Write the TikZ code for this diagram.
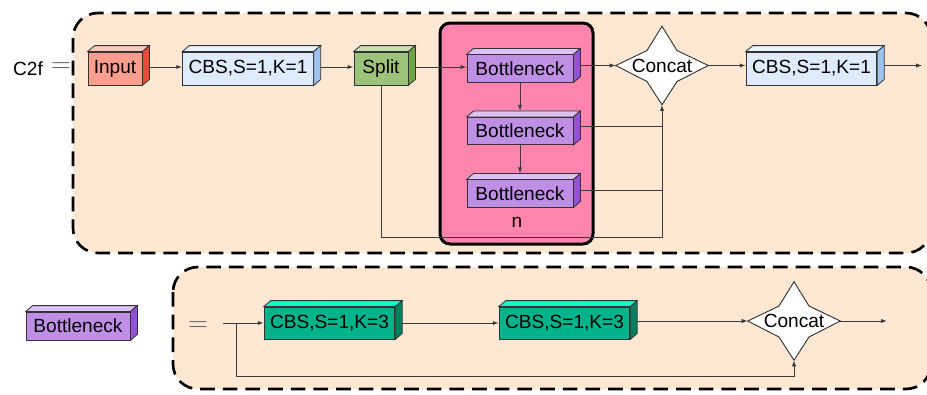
\documentclass[tikz,border=0pt]{standalone}
\usepackage{fontspec}
\setmainfont{Liberation Sans}
\usetikzlibrary{arrows.meta,calc}

\definecolor{peach}{HTML}{FFE8D3}
\definecolor{rosebox}{HTML}{FF85AE}
\definecolor{edgecol}{HTML}{333333}
\definecolor{wirecol}{HTML}{3A3A3A}
\definecolor{inF}{HTML}{FF9E8F}\definecolor{inT}{HTML}{FFC8C0}\definecolor{inS}{HTML}{E84A3A}
\definecolor{cbF}{HTML}{DDEBFD}\definecolor{cbT}{HTML}{EAF3FF}\definecolor{cbS}{HTML}{9DC3F0}
\definecolor{spF}{HTML}{9DC37A}\definecolor{spT}{HTML}{C8E0B2}\definecolor{spS}{HTML}{6FA646}
\definecolor{btF}{HTML}{BF8FE6}\definecolor{btT}{HTML}{DCC2F3}\definecolor{btS}{HTML}{9450D6}
\definecolor{tlF}{HTML}{00B38A}\definecolor{tlT}{HTML}{1CF5C6}\definecolor{tlS}{HTML}{007F5F}

% top and right faces of a box whose front face is the node #1
\newcommand\cubefaces[3]{%
  \filldraw[cubeedge, fill=#2] (#1.north west) -- ++(7,-6)
    -- ([shift={(7,-6)}]#1.north east) -- (#1.north east) -- cycle;
  \filldraw[cubeedge, fill=#3] (#1.north east) -- ++(7,-6)
    -- ([shift={(7,-6)}]#1.south east) -- (#1.south east) -- cycle;
}
% four-pointed star drawn round the node #1
\newcommand\starshape[1]{%
  \filldraw[cubeedge, fill=white, line width=0.7pt]
    (#1.west) -- ($(#1.center)+(-15,-15)$) -- (#1.north)
    -- ($(#1.center)+(15,-15)$) -- (#1.east)
    -- ($(#1.center)+(15,16)$) -- (#1.south)
    -- ($(#1.center)+(-15,16)$) -- cycle;
}

\tikzset{
  cubeedge/.style={draw=edgecol, line width=0.6pt},
  cube/.style={cubeedge, inner sep=0pt, minimum height=24.75pt,
    font=\fontsize{14.3}{16}\selectfont},
  bneck/.style={cube, fill=btF, minimum width=79.5pt, minimum height=20.5pt},
  wide/.style={minimum width=98pt},
  catnode/.style={inner sep=0pt, minimum width=69pt, minimum height=58.5pt,
    font=\fontsize{14.3}{16}\selectfont},
  label/.style={font=\fontsize{14.3}{16}\selectfont},
  eqsign/.style={text=black!65, font=\fontsize{22}{24}\selectfont},
  wire/.style={draw=wirecol, line width=0.75pt},
  conn/.style={wire, -{Latex[length=4.5pt,width=3.2pt]}},
  frame/.style={draw=black, line width=2pt, dash pattern=on 11pt off 6pt,
    fill=peach, rounded corners=18.75pt},
}

\begin{document}
\begin{tikzpicture}[x=0.75pt,y=-0.75pt]
\useasboundingbox (0,0) rectangle (927,394);

% dashed frames (their right sides run past the page edge)
\path[frame] (73,13) rectangle (931,253);
\path[frame] (173,267) rectangle (931,389);

% repeated block
\filldraw[draw=black, line width=2.25pt, fill=rosebox, rounded corners=7.5pt]
  (440,23) rectangle (593,244);

% ---------- C2f ----------
\node[label] (c2f) at (28,69) {C2f};
\node[eqsign] (eq1) at (61,68) {$=$};

\node[cube, fill=inF, minimum width=40.5pt] (input) at (115,68.5) {Input};
\node[cube, fill=cbF, wide] (cbsa) at (248,68.5) {CBS,S=1,K=1};
\node[cube, fill=spF, minimum width=40.5pt] (split) at (381,68.5) {Split};
\node[bneck] (b1) at (520,68.5) {Bottleneck};
\node[bneck] (b2) at (520,131) {Bottleneck};
\node[bneck] (b3) at (520,193.5) {Bottleneck};
\node[catnode] (cat1) at (662,65.5) {};
\node[cube, fill=cbF, wide] (cbsb) at (811.5,68.5) {CBS,S=1,K=1};
\node[label] (rep) at (517,222) {n};
\coordinate (join1) at (662,237);

% connectors
\draw[conn] ($(input.east)+(7,-1.5)$) -- ($(cbsa.west)+(0,-1.5)$);
\draw[conn] ($(cbsa.east)+(7,-1.5)$) -- ($(split.west)+(0,-1.5)$);
\draw[conn] ($(split.east)+(7,-1.5)$) -- ($(b1.west)+(0,-1.5)$);
\draw[conn] ($(b1.east)+(7,-3)$) -- (cat1.west);
\draw[conn] (cat1.east) -- (cat1.east -| cbsb.west);
\coordinate (out1) at ($(cat1.east -| cbsb.east)+(45,0)$);
\draw[conn] ($(cbsb.east |- cat1.east)+(7,0)$) -- (out1);
\draw[conn] (b1.south) -- ($(b2.north)+(0,-6)$);
\draw[conn] (b2.south) -- ($(b3.north)+(0,-6)$);
\draw[wire] ($(b2.east)+(7,-5)$) -- ($(cat1.south |- b2.east)+(0,-5)$);
\draw[wire] ($(b3.east)+(7,-3)$) -- ($(cat1.south |- b3.east)+(0,-3)$);
\draw[conn] (split.south) |- (join1) -- (cat1.south);

% boxes drawn over the wires
\foreach \n/\t/\s in {input/inT/inS, cbsa/cbT/cbS, split/spT/spS,
    b1/btT/btS, b2/btT/btS, b3/btT/btS, cbsb/cbT/cbS}{
  \cubefaces{\n}{\t}{\s}
}
\starshape{cat1}
\node[label] (cat1t) at (cat1.center) {Concat};

% ---------- Bottleneck ----------
\node[bneck, minimum width=78pt, minimum height=21pt] (bkey) at (78,326) {Bottleneck};
\cubefaces{bkey}{btT}{btS}
\node[eqsign] (eq2) at (198,327) {$=$};

\coordinate (bin) at (223,323);
\coordinate (bsplit) at (236,323);
\coordinate (bturn) at (236,376);
\node[cube, fill=tlF, wide, minimum height=24pt] (k3a) at (329.5,323) {CBS,S=1,K=3};
\node[cube, fill=tlF, wide, minimum height=24pt] (k3b) at (564.5,323) {CBS,S=1,K=3};
\node[catnode] (cat2) at (794,321) {};
\coordinate (out2) at (887,321);

\draw[conn] (bin) -- (k3a.west);
\draw[conn] ($(k3a.east)+(7,0)$) -- (k3b.west);
\draw[conn] ($(k3b.east)+(7,-2)$) -- (cat2.west);
\draw[conn] (cat2.east) -- (out2);
\draw[conn] (bsplit) -- (bturn) -| (cat2.south);

\cubefaces{k3a}{tlT}{tlS}
\cubefaces{k3b}{tlT}{tlS}
\starshape{cat2}
\node[label] (cat2t) at (cat2.center) {Concat};
\end{tikzpicture}
\end{document}
